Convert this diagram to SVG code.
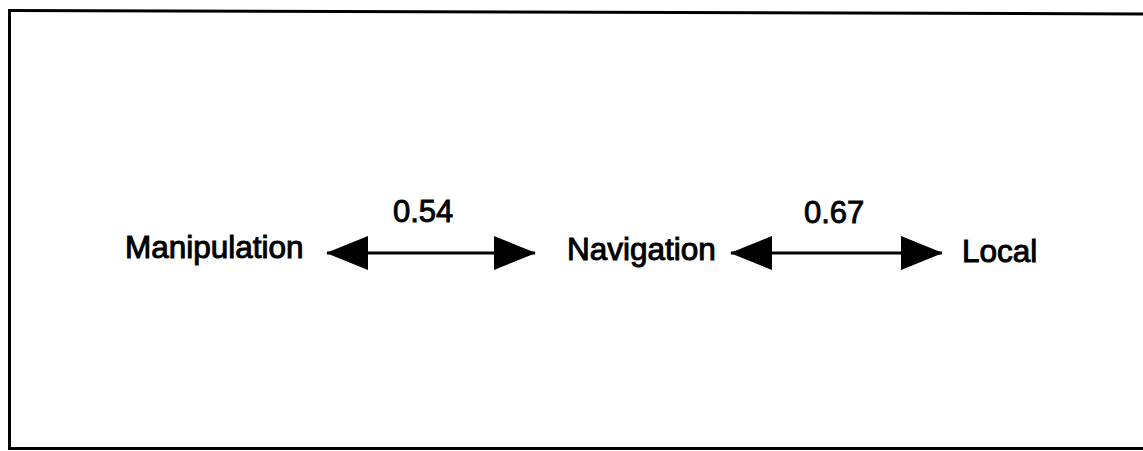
<svg xmlns="http://www.w3.org/2000/svg" width="1143" height="451" viewBox="0 0 1143 451">
  <style>
    .frame { fill: none; stroke: #000; stroke-width: 3; }
    .label { font-family: "Liberation Sans", Arial, sans-serif; font-size: 31.5px; fill: #000; stroke: #000; stroke-width: 1; }
    .num { font-family: "Liberation Sans", Arial, sans-serif; font-size: 31px; fill: #000; stroke: #000; stroke-width: 0.9; }
    .link { fill: none; stroke: #000; stroke-width: 3; marker-start: url(#head); marker-end: url(#head); }
  </style>
  <defs>
    <marker id="head" viewBox="0 0 42 34" refX="41" refY="17" markerWidth="42" markerHeight="34" markerUnits="userSpaceOnUse" orient="auto-start-reverse">
      <path d="M0,0 L42,17 L0,34 Z" fill="#000"/>
    </marker>
  </defs>
  <rect width="1143" height="451" fill="#fff"/>

  <!-- frame: left, top and bottom rules -->
  <g id="frame">
    <path class="frame" d="M9.5,9 L9.5,449.5"/>
    <path class="frame" d="M8,10.5 L1143,14"/>
    <path class="frame" d="M8,448.5 L1143,448.5"/>
  </g>

  <!-- connectors -->
  <g id="connectors">
    <path class="link" d="M327,253 L535,253"/>
    <text class="num" x="393" y="222">0.54</text>
    <path class="link" d="M731,253 L942,253"/>
    <text class="num" x="804" y="223">0.67</text>
  </g>

  <!-- nodes -->
  <g id="node-manipulation">
    <text class="label" x="125" y="258">Manipulation</text>
  </g>
  <g id="node-navigation">
    <text class="label" x="567" y="260">Navigation</text>
  </g>
  <g id="node-local">
    <text class="label" x="962" y="262">Local</text>
  </g>
</svg>
